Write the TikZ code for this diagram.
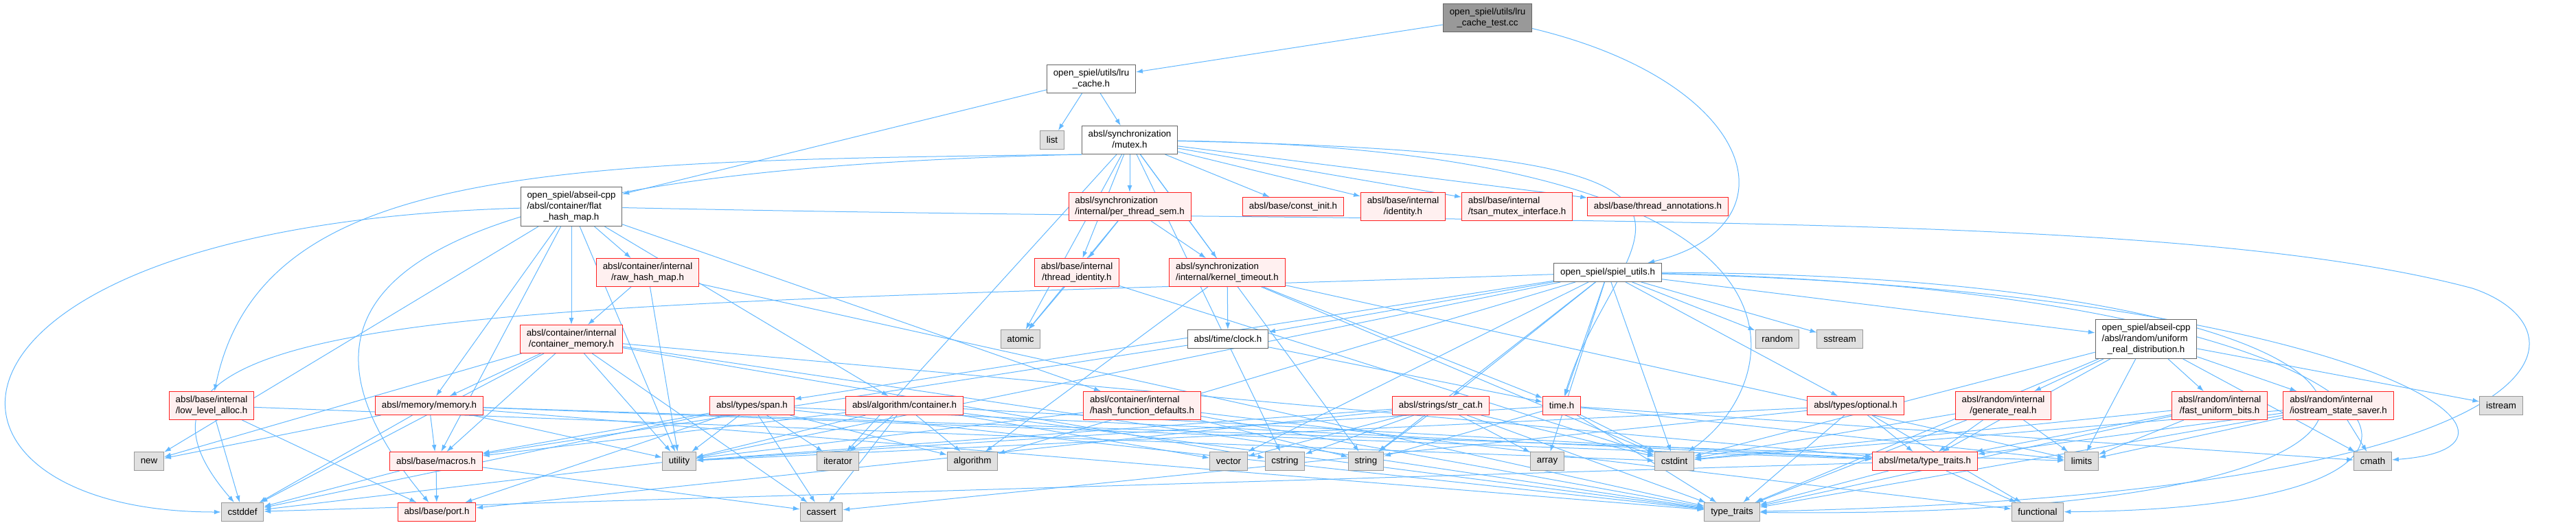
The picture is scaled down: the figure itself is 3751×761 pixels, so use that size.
\documentclass[tikz,border=0pt]{standalone}
\usepackage{fontspec}
\setmainfont{Liberation Sans}
\usetikzlibrary{arrows.meta,backgrounds}
\definecolor{edgeBlue}{HTML}{63B8FF}
\definecolor{redLine}{HTML}{FF2020}
\definecolor{redFill}{HTML}{FFF0F0}
\definecolor{sysFill}{HTML}{E0E0E0}
\definecolor{sysLine}{HTML}{999999}
\definecolor{nodeLine}{HTML}{666666}
\definecolor{rootFill}{HTML}{999999}
\newcommand{\twoln}[2]{\begin{tabular}{@{}l@{}}#1\\\multicolumn{1}{@{}c@{}}{#2}\end{tabular}}
\newcommand{\threeln}[3]{\begin{tabular}{@{}l@{}}#1\\#2\\\multicolumn{1}{@{}c@{}}{#3}\end{tabular}}

\begin{document}
\begin{tikzpicture}[x=0.75pt,y=-0.75pt,
    incbox/.style={line width=0.75pt,inner xsep=7pt,inner ysep=1pt,minimum height=20.25pt,font=\fontsize{10}{12}\selectfont},
    redbox/.style={incbox,draw=redLine,fill=redFill},
    sysbox/.style={incbox,draw=sysLine,fill=sysFill},
    localbox/.style={incbox,draw=nodeLine,fill=white},
    rootbox/.style={incbox,draw=nodeLine,fill=rootFill},
    twolines/.style={minimum height=30.75pt},
    threelines/.style={minimum height=42.75pt},
    dep/.style={draw=edgeBlue,line width=0.75pt,-{Latex[length=2.6mm,width=1.8mm]}}]
  \useasboundingbox (0,0) rectangle (3751,761);
  \node[rootbox,twolines] (test) at (2166,26) {\twoln{open\_spiel/utils/lru}{\_cache\_test.cc}};
  \node[localbox,twolines] (lru) at (1589,115) {\twoln{open\_spiel/utils/lru}{\_cache.h}};
  \node[sysbox] (list) at (1532,204) {list};
  \node[localbox,twolines] (mutex) at (1645,204) {\twoln{absl/synchronization}{/mutex.h}};
  \node[localbox,threelines] (fhm) at (832,301) {\threeln{open\_spiel/abseil-cpp}{/absl/container/flat}{\_hash\_map.h}};
  \node[redbox,twolines] (pts) at (1645,301) {\twoln{absl/synchronization}{/internal/per\_thread\_sem.h}};
  \node[redbox] (constinit) at (1883,301) {absl/base/const\_init.h};
  \node[redbox,twolines] (identity) at (2043,301) {\twoln{absl/base/internal}{/identity.h}};
  \node[redbox,twolines] (tsan) at (2209,301) {\twoln{absl/base/internal}{/tsan\_mutex\_interface.h}};
  \node[redbox] (annot) at (2414,301) {absl/base/thread\_annotations.h};
  \node[redbox,twolines] (rhm) at (943,397) {\twoln{absl/container/internal}{/raw\_hash\_map.h}};
  \node[redbox,twolines] (tid) at (1568,397) {\twoln{absl/base/internal}{/thread\_identity.h}};
  \node[redbox,twolines] (ktimeout) at (1787,397) {\twoln{absl/synchronization}{/internal/kernel\_timeout.h}};
  \node[localbox] (spiel) at (2341,397) {open\_spiel/spiel\_utils.h};
  \node[redbox,twolines] (cmem) at (832,494) {\twoln{absl/container/internal}{/container\_memory.h}};
  \node[sysbox] (atomic) at (1486,494) {atomic};
  \node[localbox] (clock) at (1788,494) {absl/time/clock.h};
  \node[sysbox] (random) at (2588,494) {random};
  \node[sysbox] (sstream) at (2679,494) {sstream};
  \node[localbox,threelines] (urd) at (3125,494) {\threeln{open\_spiel/abseil-cpp}{/absl/random/uniform}{\_real\_distribution.h}};
  \node[redbox,twolines] (lla) at (308,591) {\twoln{absl/base/internal}{/low\_level\_alloc.h}};
  \node[redbox] (memory) at (625,591) {absl/memory/memory.h};
  \node[redbox] (span) at (1095,591) {absl/types/span.h};
  \node[redbox] (algoc) at (1317,591) {absl/algorithm/container.h};
  \node[redbox,twolines] (hfd) at (1663,591) {\twoln{absl/container/internal}{/hash\_function\_defaults.h}};
  \node[redbox] (strcat) at (2098,591) {absl/strings/str\_cat.h};
  \node[redbox] (timeh) at (2274,591) {time.h};
  \node[redbox] (optional) at (2702,591) {absl/types/optional.h};
  \node[redbox,twolines] (genreal) at (2917,591) {\twoln{absl/random/internal}{/generate\_real.h}};
  \node[redbox,twolines] (fub) at (3232,591) {\twoln{absl/random/internal}{/fast\_uniform\_bits.h}};
  \node[redbox,twolines] (iss) at (3405,591) {\twoln{absl/random/internal}{/iostream\_state\_saver.h}};
  \node[sysbox] (istream) at (3642,591) {istream};
  \node[sysbox] (new) at (217,672) {new};
  \node[redbox] (macros) at (635,672) {absl/base/macros.h};
  \node[sysbox] (utility) at (989,672) {utility};
  \node[sysbox] (iterator) at (1220,672) {iterator};
  \node[sysbox] (algorithm) at (1416,672) {algorithm};
  \node[sysbox] (vector) at (1789,672) {vector};
  \node[sysbox] (cstring) at (1871,672) {cstring};
  \node[sysbox] (string) at (1989,672) {string};
  \node[sysbox] (array) at (2253,672) {array};
  \node[sysbox] (cstdint) at (2438,672) {cstdint};
  \node[redbox] (metatt) at (2803,672) {absl/meta/type\_traits.h};
  \node[sysbox] (limits) at (3031,672) {limits};
  \node[sysbox] (cmath) at (3455,672) {cmath};
  \node[sysbox] (cstddef) at (353,746) {cstddef};
  \node[redbox] (port) at (636,746) {absl/base/port.h};
  \node[sysbox] (cassert) at (1196,746) {cassert};
  \node[sysbox] (typetraits) at (2522,746) {type\_traits};
  \node[sysbox] (functional) at (2967,746) {functional};
  \begin{scope}[on background layer]
    \draw[dep] (test) -- (lru);
    \draw[dep] (test) .. controls (2560,120) and (2620,330) .. (spiel);
    \draw[dep] (lru) -- (list);
    \draw[dep] (lru) -- (mutex);
    \draw[dep] (lru) -- (fhm);
    \draw[dep] (mutex) -- (pts);
    \draw[dep] (mutex) -- (constinit);
    \draw[dep] (mutex) -- (identity);
    \draw[dep] (mutex) -- (tsan);
    \draw[dep] (mutex) -- (annot);
    \draw[dep] (mutex) -- (tid);
    \draw[dep] (mutex) -- (ktimeout);
    \draw[dep] (mutex) -- (atomic);
    \draw[dep] (mutex.south west) .. controls (800,235) and (380,240) .. (lla);
    \draw[dep] (mutex.south west) .. controls (700,245) and (330,380) .. (port);
    \draw[dep] (mutex) .. controls (2700,220) and (2600,560) .. (cstdint);
    \draw[dep] (mutex) -- (cstring);
    \draw[dep] (mutex) -- (iterator);
    \draw[dep] (mutex) -- (string);
    \draw[dep] (mutex) .. controls (2650,225) and (2350,330) .. (timeh);
    \draw[dep] (fhm) -- (rhm);
    \draw[dep] (fhm) -- (cmem);
    \draw[dep] (fhm) -- (memory);
    \draw[dep] (fhm) -- (macros);
    \draw[dep] (fhm) -- (utility);
    \draw[dep] (fhm) .. controls (-150,330) and (-150,746) .. (cstddef);
    \draw[dep] (fhm) -- (new);
    \draw[dep] (fhm) -- (algoc);
    \draw[dep] (fhm) -- (hfd);
    \draw[dep] (fhm) .. controls (2200,330) and (3150,300) .. (3600,420) .. controls (3780,480) and (3760,720) .. (typetraits);
    \draw[dep] (pts) -- (tid);
    \draw[dep] (pts) -- (ktimeout);
    \draw[dep] (pts) -- (atomic);
    \draw[dep] (tid) -- (atomic);
    \draw[dep] (tid) -- (cstdint);
    \draw[dep] (ktimeout) -- (clock);
    \draw[dep] (ktimeout) -- (timeh);
    \draw[dep] (ktimeout) -- (algorithm);
    \draw[dep] (ktimeout) -- (cstdint);
    \draw[dep] (ktimeout) -- (limits);
    \draw[dep] (clock) -- (timeh);
    \draw[dep] (clock) -- (macros);
    \draw[dep] (spiel) -- (clock);
    \draw[dep] (spiel) -- (random);
    \draw[dep] (spiel) -- (sstream);
    \draw[dep] (spiel) -- (urd);
    \draw[dep] (spiel) -- (optional);
    \draw[dep] (spiel) -- (strcat);
    \draw[dep] (spiel) -- (timeh);
    \draw[dep] (spiel) -- (array);
    \draw[dep] (spiel) -- (cstdint);
    \draw[dep] (spiel) -- (string);
    \draw[dep] (spiel) -- (vector);
    \draw[dep] (spiel) -- (algorithm);
    \draw[dep] (spiel) -- (span);
    \draw[dep] (spiel) .. controls (800,450) and (80,430) .. (cstddef);
    \draw[dep] (spiel) .. controls (3450,425) and (3750,650) .. (cmath);
    \draw[dep] (spiel) .. controls (3600,400) and (3740,760) .. (typetraits);
    \draw[dep] (spiel) .. controls (3500,420) and (3760,740) .. (functional);
    \draw[dep] (spiel) -- (utility);
    \draw[dep] (urd) -- (genreal);
    \draw[dep] (urd) -- (fub);
    \draw[dep] (urd) -- (iss);
    \draw[dep] (urd) -- (istream);
    \draw[dep] (urd) -- (limits);
    \draw[dep] (urd) -- (metatt);
    \draw[dep] (urd) -- (cstdint);
    \draw[dep] (urd) -- (typetraits);
    \draw[dep] (urd) -- (cmath);
    \draw[dep] (genreal) -- (metatt);
    \draw[dep] (genreal) -- (limits);
    \draw[dep] (genreal) -- (cstdint);
    \draw[dep] (genreal) -- (typetraits);
    \draw[dep] (fub) -- (metatt);
    \draw[dep] (fub) -- (limits);
    \draw[dep] (fub) -- (cstdint);
    \draw[dep] (fub) -- (typetraits);
    \draw[dep] (iss) -- (cmath);
    \draw[dep] (iss) -- (limits);
    \draw[dep] (iss) -- (metatt);
    \draw[dep] (iss) -- (typetraits);
    \draw[dep] (iss) -- (cstdint);
    \draw[dep] (optional) -- (metatt);
    \draw[dep] (optional) -- (typetraits);
    \draw[dep] (optional) -- (functional);
    \draw[dep] (optional) -- (utility);
    \draw[dep] (optional) -- (cassert);
    \draw[dep] (metatt) -- (typetraits);
    \draw[dep] (metatt) -- (functional);
    \draw[dep] (metatt) -- (cstddef);
    \draw[dep] (strcat) -- (vector);
    \draw[dep] (strcat) -- (string);
    \draw[dep] (strcat) -- (array);
    \draw[dep] (strcat) -- (cstdint);
    \draw[dep] (strcat) -- (typetraits);
    \draw[dep] (strcat) -- (cstring);
    \draw[dep] (strcat) -- (port);
    \draw[dep] (strcat) -- (utility);
    \draw[dep] (timeh) -- (cstdint);
    \draw[dep] (timeh) -- (string);
    \draw[dep] (timeh) -- (limits);
    \draw[dep] (timeh) -- (cmath);
    \draw[dep] (timeh) -- (typetraits);
    \draw[dep] (timeh) -- (utility);
    \draw[dep] (span) -- (cstddef);
    \draw[dep] (span) -- (macros);
    \draw[dep] (span) -- (utility);
    \draw[dep] (span) -- (port);
    \draw[dep] (span) -- (cassert);
    \draw[dep] (span) -- (iterator);
    \draw[dep] (span) -- (algorithm);
    \draw[dep] (span) -- (typetraits);
    \draw[dep] (span) -- (metatt);
    \draw[dep] (memory) -- (new);
    \draw[dep] (memory) -- (utility);
    \draw[dep] (memory) -- (cstddef);
    \draw[dep] (memory) -- (macros);
    \draw[dep] (memory) -- (typetraits);
    \draw[dep] (memory) -- (metatt);
    \draw[dep] (memory) -- (limits);
    \draw[dep] (macros) -- (cassert);
    \draw[dep] (macros) -- (cstddef);
    \draw[dep] (macros) -- (port);
    \draw[dep] (lla) -- (cstddef);
    \draw[dep] (lla) -- (port);
    \draw[dep] (lla) -- (cstdint);
    \draw[dep] (cmem) -- (memory);
    \draw[dep] (cmem) -- (cstddef);
    \draw[dep] (cmem) -- (new);
    \draw[dep] (cmem) -- (macros);
    \draw[dep] (cmem) -- (utility);
    \draw[dep] (cmem) -- (cassert);
    \draw[dep] (cmem) -- (cstring);
    \draw[dep] (cmem) -- (typetraits);
    \draw[dep] (cmem) -- (metatt);
    \draw[dep] (rhm) -- (cmem);
    \draw[dep] (rhm) -- (utility);
    \draw[dep] (rhm) -- (typetraits);
    \draw[dep] (algoc) -- (algorithm);
    \draw[dep] (algoc) -- (iterator);
    \draw[dep] (algoc) -- (cassert);
    \draw[dep] (algoc) -- (utility);
    \draw[dep] (algoc) -- (typetraits);
    \draw[dep] (algoc) -- (vector);
    \draw[dep] (algoc) -- (macros);
    \draw[dep] (algoc) -- (metatt);
    \draw[dep] (hfd) -- (cstddef);
    \draw[dep] (hfd) -- (typetraits);
    \draw[dep] (hfd) -- (string);
    \draw[dep] (hfd) -- (functional);
  \end{scope}
\end{tikzpicture}
\end{document}
